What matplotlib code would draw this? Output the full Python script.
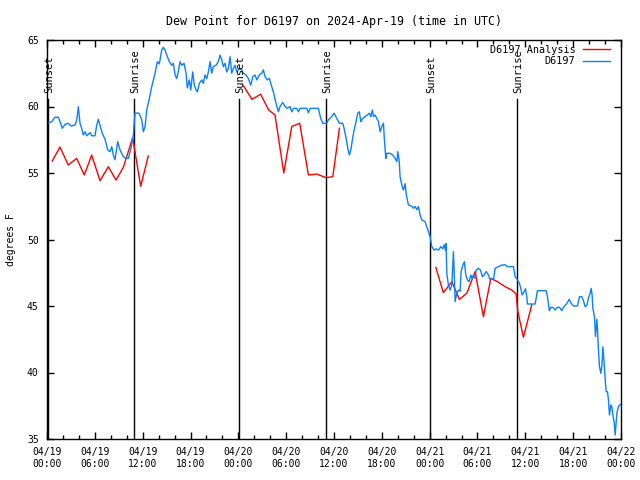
import numpy as np
import matplotlib
matplotlib.use("Agg")
import matplotlib.pyplot as plt

plt.rcParams['font.family'] = ['DejaVu Sans Mono']
plt.rcParams['font.size'] = 7

# hours since 2024-04-19 00:00 UTC
obs_hours = [0.09, 0.59, 1.0, 1.42, 1.63, 1.92, 2.26, 2.67, 3.01, 3.51, 3.73, 3.93, 4.14, 4.35,
             4.55, 4.77, 4.98, 5.4, 5.61, 6.02, 6.24, 6.44, 6.65, 6.94, 7.28, 7.62, 7.9, 8.12,
             8.32, 8.53, 8.87, 9.16, 9.57, 9.87, 10.2, 10.54, 10.83, 11.04, 11.54, 11.88, 12.08,
             12.3, 12.51, 12.8, 13.14, 13.55, 13.84, 14.09, 14.39, 14.59, 14.81, 15.02, 15.35,
             15.65, 15.85, 16.06, 16.27, 16.47, 16.69, 16.9, 17.19, 17.44, 17.6, 17.85, 18.03,
             18.28, 18.48, 18.7, 18.86, 19.11, 19.41, 19.61, 19.82, 20.04, 20.24, 20.45, 20.66,
             20.87, 21.2, 21.49, 21.71, 21.92, 22.12, 22.33, 22.55, 22.75, 22.96, 23.17, 23.38,
             23.59, 23.8, 24.13, 24.43, 24.63, 24.97, 25.26, 25.56, 25.81, 26.1, 26.31, 26.64,
             26.94, 27.14, 27.35, 27.64, 27.89, 28.19, 28.39, 28.73, 29.02, 29.23, 29.57, 29.86,
             30.15, 30.49, 30.7, 30.9, 31.33, 31.53, 31.74, 32.58, 32.79, 33.0, 34.04, 34.34,
             34.59, 35.09, 35.29, 35.72, 36.01, 36.35, 36.68, 37.1, 37.26, 37.52, 37.73, 37.93,
             38.11, 38.31, 38.52, 38.77, 38.98, 39.18, 39.36, 39.61, 39.9, 40.19, 40.44, 40.62,
             40.82, 40.94, 41.15, 41.37, 41.57, 41.78, 41.99, 42.2, 42.32, 42.5, 42.62, 43.04,
             43.37, 43.66, 43.88, 44.0, 44.17, 44.29, 44.5, 44.71, 44.92, 45.04, 45.21, 45.33,
             45.76, 45.96, 46.17, 46.39, 46.59, 46.8, 47.01, 47.43, 47.64, 47.84, 48.06, 48.27,
             48.56, 48.81, 49.1, 49.4, 49.65, 49.81, 49.97, 50.06, 50.15, 50.35, 50.56, 50.78,
             50.98, 51.07, 51.19, 51.4, 51.61, 51.82, 51.94, 52.16, 52.36, 52.53, 52.74, 52.95,
             53.16, 53.32, 53.49, 53.7, 53.83, 54.12, 54.37, 54.62, 54.83, 55.08, 55.37, 55.58,
             55.8, 56.0, 56.21, 56.63, 57.05, 57.47, 57.75, 58.51, 58.72, 58.97, 59.26, 59.43,
             59.6, 59.79, 60.01, 60.19, 60.26, 61.23, 61.52, 62.61, 62.77, 63.02, 63.2, 63.45,
             63.74, 64.03, 64.3, 64.58, 64.78, 65.21, 65.5, 65.75, 66.04, 66.54, 66.79, 67.09,
             67.29, 67.5, 67.72, 67.92, 68.13, 68.26, 68.38, 68.47, 68.67, 68.8, 68.97, 69.05,
             69.17, 69.3, 69.47, 69.6, 69.73, 69.85, 70.01, 70.14, 70.3, 70.43, 70.55, 70.73,
             70.86, 70.98, 71.15, 71.27, 71.39, 71.48, 71.68, 71.9]
obs_dewpt = [58.74, 58.86, 59.19, 59.2, 58.86, 58.36, 58.66, 58.74, 58.53, 58.6, 58.98, 59.98, 58.74,
             58.36, 57.86, 58.1, 57.8, 58.03, 57.8, 57.8, 58.6, 59.04, 58.6, 57.98, 57.53, 56.73,
             56.6, 56.98, 56.35, 56.0, 57.36, 56.73, 56.23, 56.1, 56.1, 56.86, 57.86, 59.5, 59.5,
             59.0, 58.1, 58.48, 59.74, 60.5, 61.5, 62.5, 63.37, 63.2, 64.25, 64.45, 64.25, 63.87,
             63.37, 63.1, 63.25, 62.37, 62.1, 62.6, 63.37, 63.1, 63.25, 62.5, 61.4, 62.0, 61.24,
             62.6, 61.6, 61.24, 61.1, 61.74, 62.0, 61.74, 62.37, 62.1, 62.6, 63.37, 62.5, 63.0,
             63.1, 63.37, 63.87, 63.5, 63.0, 63.25, 62.6, 62.87, 63.75, 62.5, 62.87, 63.1, 62.6,
             62.87, 62.75, 62.5, 62.37, 62.1, 61.6, 62.24, 62.37, 62.0, 62.37, 62.5, 62.75, 62.24,
             62.0, 62.1, 61.5, 61.1, 60.24, 59.6, 60.0, 60.3, 60.0, 59.86, 60.0, 59.6, 59.86,
             59.86, 59.6, 59.86, 59.86, 59.53, 59.86, 59.86, 59.1, 58.74, 58.74, 59.0, 59.24, 59.5,
             59.1, 58.74, 58.74, 58.36, 57.6, 56.86, 56.35, 56.73, 57.5, 58.23, 58.86, 59.5, 59.6,
             58.86, 59.1, 59.24, 59.36, 59.5, 59.24, 59.74, 59.24, 59.36, 59.1, 58.86, 58.1, 58.48,
             58.74, 57.5, 56.1, 56.48, 56.48, 56.35, 56.1, 55.85, 56.6, 55.98, 54.72, 54.1, 53.72,
             54.2, 53.47, 52.97, 52.6, 52.5, 52.35, 52.48, 52.24, 52.48, 51.84, 51.47, 51.34,
             50.96, 50.6, 50.2, 49.46, 49.2, 49.3, 49.2, 49.46, 49.3, 49.6, 49.2, 49.7, 47.46,
             46.58, 46.2, 46.6, 49.08, 47.6, 45.33, 45.96, 46.2, 46.1, 47.58, 48.08, 48.33, 47.33,
             46.96, 46.83, 47.33, 47.08, 47.33, 47.08, 47.7, 47.83, 47.7, 47.2, 47.33, 47.6, 47.33,
             46.96, 47.08, 46.96, 47.83, 47.96, 48.08, 48.1, 47.96, 47.96, 47.2, 47.0, 46.7, 46.33,
             45.83, 46.0, 46.3, 45.7, 45.15, 45.15, 46.15, 46.15, 45.7, 44.65, 44.9, 44.9, 44.7,
             44.9, 44.9, 44.65, 44.9, 45.2, 45.5, 45.2, 45.0, 45.0, 45.7, 45.7, 45.4, 44.95, 45.05,
             45.6, 45.96, 46.33, 45.8, 44.83, 44.2, 42.7, 44.0, 43.2, 41.7, 40.44, 39.94, 40.5,
             41.94, 41.0, 39.56, 38.56, 38.56, 37.93, 36.8, 37.55, 37.4, 36.8, 36.2, 35.3, 36.2,
             36.95, 37.43, 37.6]

# analysis series, gaps as nan
ana_hours = [0.65, 1.63, 2.67, 3.72, 4.68, 5.6, 6.65, 7.69, 8.66, 9.57, 10.75, 11.75, 12.7, 13.2,
             24.6, 25.7, 26.8, 27.8, 28.6, 29.7, 30.7, 31.7, 32.79, 33.84, 35.0, 35.85, 36.68, 37.2,
             48.77, 49.72, 50.78, 51.73, 52.66, 53.7, 54.74, 55.67, 56.5, 57.47, 58.3, 58.85,
             59.05, 59.76, 60.8]
ana_dewpt = [55.9, 56.95, 55.6, 56.1, 54.85, 56.35, 54.42, 55.47, 54.47, 55.42, 57.66, 54.0, 56.28, np.nan,
             61.6, 60.54, 60.92, 59.74, 59.36, 55.0, 58.5, 58.74, 54.85, 54.92, 54.65, 54.72, 58.36, np.nan,
             47.9, 46.0, 46.83, 45.5, 45.96, 47.58, 44.2, 47.08, 46.83, 46.45, 46.2, 45.9,
             44.6, 42.65, 45.08]

sun_hours = [0.08, 10.9, 24.12, 35.0, 48.06, 58.97]
sun_labels = ['Sunset', 'Sunrise', 'Sunset', 'Sunrise', 'Sunset', 'Sunrise']

tick_hours = list(range(0, 73, 6))
tick_labels = ['04/19\n00:00', '04/19\n06:00', '04/19\n12:00', '04/19\n18:00',
               '04/20\n00:00', '04/20\n06:00', '04/20\n12:00', '04/20\n18:00',
               '04/21\n00:00', '04/21\n06:00', '04/21\n12:00', '04/21\n18:00',
               '04/22\n00:00']

fig = plt.figure(figsize=(6.4, 4.8), dpi=100)
ax = fig.add_axes([47/640, 41/480, 574/640, 399/480])

for h, lab in zip(sun_hours, sun_labels):
    ax.axvline(h, ymin=0, ymax=0.853, color='black', lw=1)
    ax.text(h + 0.15, 0.868, lab, transform=ax.get_xaxis_transform(), rotation=90,
            ha='center', va='bottom', fontsize=7.5)

ax.plot(ana_hours, ana_dewpt, color='#ff0000', lw=1, label='D6197 Analysis')
ax.plot(obs_hours, obs_dewpt, color='#0a80ff', lw=1, label='D6197')

ax.set_xlim(0, 72)
ax.set_ylim(35, 65)
ax.set_xticks(tick_hours)
ax.set_xticklabels(tick_labels)
ax.set_xticks(range(0, 73, 2), minor=True)
ax.set_yticks(range(35, 66, 5))
ax.tick_params(which='both', direction='in', top=True, right=True, width=1, pad=6)
ax.tick_params(which='major', length=5)
ax.tick_params(which='minor', length=3)
for s in ax.spines.values():
    s.set_linewidth(1)

ax.set_ylabel('degrees F', labelpad=8)
ax.set_title('Dew Point for D6197 on 2024-Apr-19 (time in UTC)', pad=11)

leg = ax.legend(loc='upper right', bbox_to_anchor=(0.993, 1.006), frameon=False,
                markerfirst=False, handlelength=2.7, handletextpad=0.7,
                labelspacing=0.17, borderpad=0.2, fontsize=7.3)
for col in leg._legend_handle_box.get_children():
    col.align = 'right'

fig.savefig('out.png', dpi=100)
